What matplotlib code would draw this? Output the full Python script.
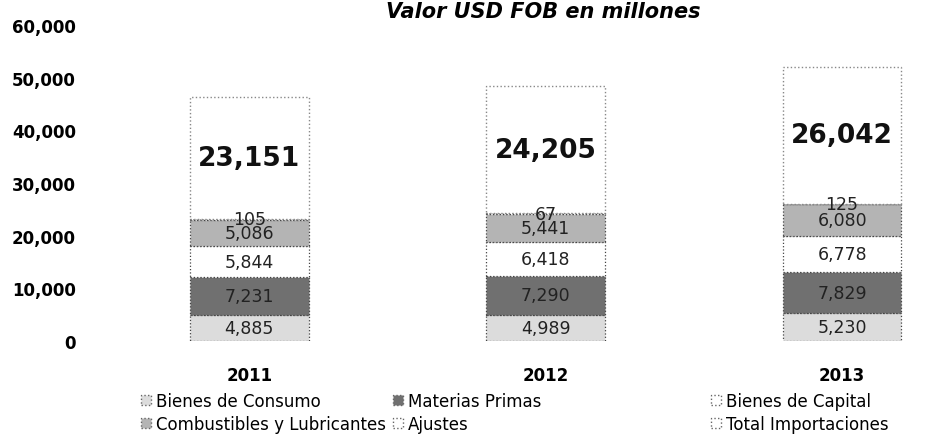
import matplotlib
matplotlib.use("Agg")
import matplotlib.pyplot as plt
import numpy as np
from matplotlib.patches import Patch

plt.rcParams['font.family'] = ['DejaVu Sans']

# datos (USD FOB millones)
anios = ['2011', '2012', '2013']
consumo = [4885, 4989, 5230]
materias = [7231, 7290, 7829]
capital = [5844, 6418, 6778]
combustibles = [5086, 5441, 6080]
ajustes = [105, 67, 125]
total = [23151, 24205, 26042]

series = [
    ('Bienes de Consumo', consumo, '#dcdcdc'),
    ('Materias Primas', materias, '#707070'),
    ('Bienes de Capital', capital, '#ffffff'),
    ('Combustibles y Lubricantes', combustibles, '#b4b4b4'),
    ('Ajustes', ajustes, '#ffffff'),
    ('Total Importaciones', total, '#ffffff'),
]

fig = plt.figure(figsize=(9.31, 4.39), dpi=100)
ax = fig.add_axes([0.1085, 0.221, 0.8915, 0.72])

x = np.arange(len(anios))
ancho = 0.40
base = np.zeros(len(anios))
handles = {}
for nombre, vals, color in series:
    vals = np.array(vals, dtype=float)
    if nombre == 'Total Importaciones':
        ax.bar(x, vals, ancho, bottom=base, color=color,
               edgecolor='#888888', linestyle=':', linewidth=1.0)
        for xi, b, v in zip(x, base, vals):
            ax.text(xi, b + v / 2, f'{int(v):,}', ha='center', va='center',
                    fontsize=19, fontweight='bold', color='#111111')
    else:
        ax.bar(x, vals, ancho, bottom=base, color=color,
               edgecolor='#444444', linestyle=':', linewidth=0.9)
        for xi, b, v in zip(x, base, vals):
            ax.text(xi, b + v / 2, f'{int(v):,}', ha='center', va='center',
                    fontsize=12.5, color='#222222')
    handles[nombre] = Patch(facecolor=color, edgecolor='#666666', linestyle=':')
    base = base + vals

ax.set_xlim(-0.5, 2.30)
ax.set_ylim(0, 60000)
ax.set_yticks(np.arange(0, 60001, 10000))
ax.yaxis.set_major_formatter(matplotlib.ticker.FuncFormatter(lambda v, p: f'{int(v):,}'))
ax.set_xticks(x)
ax.set_xticklabels(anios, fontweight='bold', fontsize=12)
ax.tick_params(axis='y', length=0, pad=18, labelsize=12)
ax.tick_params(axis='x', length=0, pad=18)
for lbl in ax.get_yticklabels():
    lbl.set_fontweight('bold')
for s in ax.spines.values():
    s.set_visible(False)

fig.text(0.583, 0.972, 'Valor USD FOB en millones', ha='center', va='center',
         fontsize=15, fontweight='bold', fontstyle='italic')

# leyenda en tres columnas, como en el original
columnas = [
    (['Bienes de Consumo', 'Combustibles y Lubricantes'], 0.151),
    (['Materias Primas', 'Ajustes'], 0.422),
    (['Bienes de Capital', 'Total Importaciones'], 0.764),
]
for nombres, xpos in columnas:
    fig.legend([handles[n] for n in nombres], nombres, loc='upper left',
               bbox_to_anchor=(xpos, 0.105), frameon=False, fontsize=12,
               handlelength=0.6, handleheight=0.6, handletextpad=0.3,
               labelspacing=0.3, borderaxespad=0, borderpad=0)

fig.savefig('out.png', dpi=100)
